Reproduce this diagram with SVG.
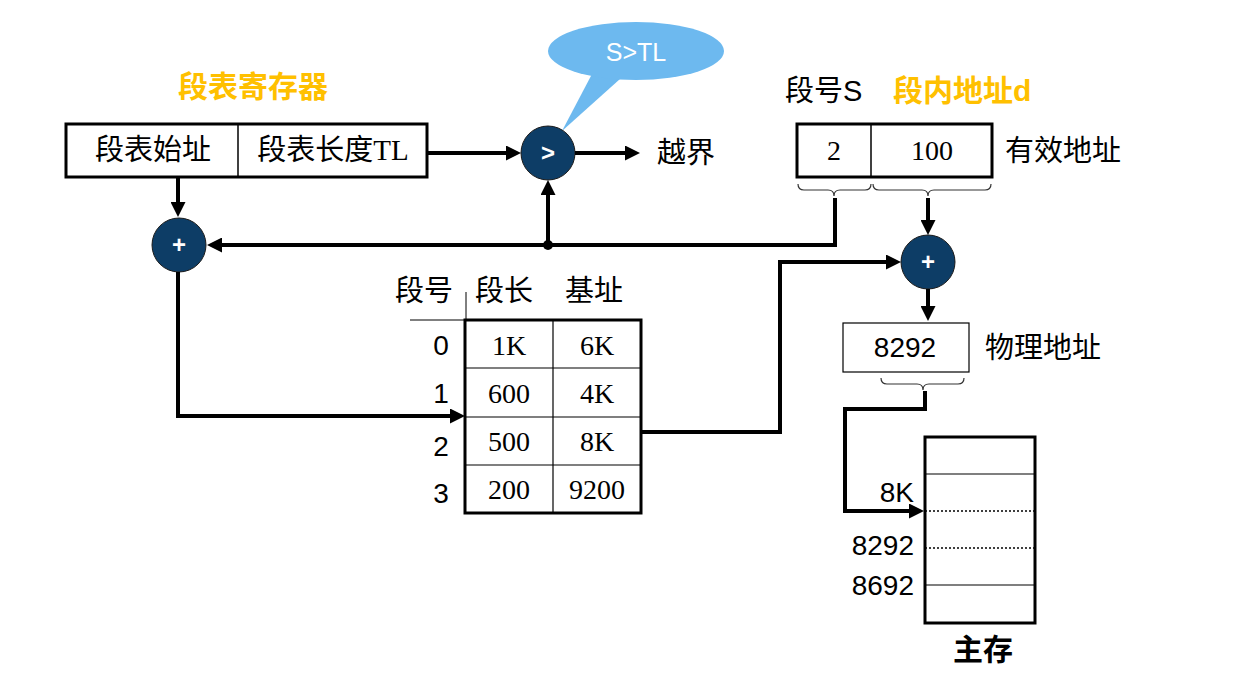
<svg xmlns="http://www.w3.org/2000/svg" width="1238" height="683" viewBox="0 0 1238 683">
<defs>
<marker id="ah" markerUnits="userSpaceOnUse" markerWidth="15" markerHeight="15" viewBox="0 0 15 15" refX="4" refY="7.5" orient="auto">
<path d="M0,0 L15,7.5 L0,15 z" fill="#000"/>
</marker>
</defs>
<style>
.cjk{font-family:"Noto Sans CJK SC","Liberation Sans",sans-serif;font-size:29px;fill:#000}
.ser{font-family:"Liberation Serif","Noto Sans CJK SC",serif;font-size:28px;fill:#000}
.san{font-family:"Liberation Sans","Noto Sans CJK SC",sans-serif;font-size:28px;fill:#000}
.yel{font-family:"Noto Sans CJK SC","Liberation Sans",sans-serif;font-size:30px;font-weight:bold;fill:#FFC000}
.thick{fill:#fff;stroke:#000;stroke-width:3}
.thin{fill:none;stroke:#000;stroke-width:1.2}
.op{fill:#0D3D66;stroke:#1a1a1a;stroke-width:1}
.opt{font-family:"Liberation Sans",sans-serif;font-weight:bold;font-size:24px;fill:#fff}
.conn{fill:none;stroke:#000;stroke-width:4;marker-end:url(#ah)}
.brace{fill:none;stroke:#333;stroke-width:1.2}
</style>

<g id="seg-register">
<text class="yel" x="253" y="97" text-anchor="middle">段表寄存器</text>
<rect class="thick" x="66" y="124" width="361" height="53"/>
<line x1="238" y1="124" x2="238" y2="177" stroke="#000" stroke-width="1.5"/>
<text class="cjk" x="153" y="160" text-anchor="middle">段表始址</text>
<text class="cjk" x="333" y="160" text-anchor="middle">段表长度<tspan font-family="Liberation Serif">TL</tspan></text>
</g>

<g id="bubble">
<path d="M592,74 L562,131 L620,79 z" fill="#6DB9EF"/>
<ellipse cx="636" cy="51" rx="88" ry="29" fill="#6DB9EF"/>
<text x="636" y="61" text-anchor="middle" font-family="Liberation Sans, sans-serif" font-size="25" fill="#fff">S&gt;TL</text>
</g>

<g id="comparator">
<circle class="op" cx="548" cy="153" r="27"/>
<text class="opt" x="548" y="161" text-anchor="middle">&gt;</text>
</g>

<g id="overflow">
<text class="cjk" x="657" y="163">越界</text>
</g>

<g id="adder1">
<circle class="op" cx="179" cy="245" r="27"/>
<text class="opt" x="179" y="253" text-anchor="middle">+</text>
</g>

<g id="logical-address">
<text class="cjk" x="785" y="101">段号<tspan font-family="Liberation Sans">S</tspan></text>
<text class="yel" x="893" y="101">段内地址<tspan font-family="Liberation Sans">d</tspan></text>
<rect class="thick" x="797" y="124" width="195" height="53"/>
<line x1="871" y1="124" x2="871" y2="177" stroke="#000" stroke-width="1.5"/>
<text class="ser" x="834" y="160" text-anchor="middle">2</text>
<text class="ser" x="932" y="160" text-anchor="middle">100</text>
<text class="cjk" x="1005" y="161">有效地址</text>
<path class="brace" d="M798,184 Q798,190 804,190 L828,190 Q834,190 834,196 Q834,190 840,190 L865,190 Q871,190 871,184"/>
<path class="brace" d="M873,184 Q873,190 879,190 L922,190 Q928,190 928,196 Q928,190 934,190 L985,190 Q991,190 991,184"/>
</g>

<g id="adder2">
<circle class="op" cx="928" cy="262" r="27"/>
<text class="opt" x="928" y="270" text-anchor="middle">+</text>
</g>

<g id="seg-table">
<text class="cjk" x="424" y="301" text-anchor="middle">段号</text>
<text class="cjk" x="504" y="301" text-anchor="middle">段长</text>
<text class="cjk" x="594" y="301" text-anchor="middle">基址</text>
<line x1="466" y1="292" x2="466" y2="320" stroke="#000" stroke-width="1"/>
<line x1="410" y1="320" x2="466" y2="320" stroke="#000" stroke-width="1"/>
<rect class="thick" x="465" y="320" width="176" height="193"/>
<line x1="553" y1="320" x2="553" y2="513" stroke="#000" stroke-width="1.2"/>
<line x1="465" y1="368" x2="641" y2="368" stroke="#000" stroke-width="1.2"/>
<line x1="465" y1="417" x2="641" y2="417" stroke="#000" stroke-width="1.2"/>
<line x1="465" y1="465" x2="641" y2="465" stroke="#000" stroke-width="1.2"/>
<text class="san" x="441" y="355" text-anchor="middle">0</text>
<text class="san" x="441" y="403" text-anchor="middle">1</text>
<text class="san" x="441" y="456" text-anchor="middle">2</text>
<text class="san" x="441" y="503" text-anchor="middle">3</text>
<text class="ser" x="509" y="355" text-anchor="middle">1K</text>
<text class="ser" x="597" y="355" text-anchor="middle">6K</text>
<text class="ser" x="509" y="403" text-anchor="middle">600</text>
<text class="ser" x="597" y="403" text-anchor="middle">4K</text>
<text class="ser" x="509" y="451" text-anchor="middle">500</text>
<text class="ser" x="597" y="451" text-anchor="middle">8K</text>
<text class="ser" x="509" y="499" text-anchor="middle">200</text>
<text class="ser" x="597" y="499" text-anchor="middle">9200</text>
</g>

<g id="physical-address">
<rect x="843" y="323" width="126" height="49" fill="#fff" stroke="#000" stroke-width="1.2"/>
<text class="san" x="905" y="357" text-anchor="middle" font-size="29">8292</text>
<text class="cjk" x="985" y="358">物理地址</text>
<path class="brace" d="M881,378 Q881,384 887,384 L917,384 Q923,384 923,390 Q923,384 929,384 L958,384 Q964,384 964,378"/>
</g>

<g id="main-memory">
<rect class="thick" x="925" y="437" width="110" height="186"/>
<line x1="925" y1="474" x2="1035" y2="474" stroke="#000" stroke-width="1.2"/>
<line x1="925" y1="511" x2="1035" y2="511" stroke="#000" stroke-width="1.5" stroke-dasharray="2,2"/>
<line x1="925" y1="548" x2="1035" y2="548" stroke="#000" stroke-width="1.5" stroke-dasharray="2,2"/>
<line x1="925" y1="585" x2="1035" y2="585" stroke="#000" stroke-width="1.2"/>
<text class="san" x="914" y="502" text-anchor="end">8K</text>
<text class="san" x="914" y="555" text-anchor="end" font-size="29">8292</text>
<text class="san" x="914" y="595" text-anchor="end" font-size="29">8692</text>
<text x="983" y="660" text-anchor="middle" font-family="Noto Sans CJK SC, sans-serif" font-weight="bold" font-size="30">主存</text>
</g>

<g id="connectors">
<path class="conn" d="M427,153 H510"/>
<path class="conn" d="M575,153 H629"/>
<path class="conn" d="M178,177 V206"/>
<path class="conn" d="M835,198 V245 H218"/>
<path class="conn" d="M548,245 V191"/>
<path class="conn" d="M928,198 V224"/>
<path class="conn" d="M178,272 V416 H454"/>
<path class="conn" d="M641,432 H780 V262 H890"/>
<path class="conn" d="M928,289 V310"/>
<path class="conn" d="M925,391 V409 H845 V511 H913"/>
<circle cx="548" cy="245" r="5" fill="#000"/>
</g>
</svg>
